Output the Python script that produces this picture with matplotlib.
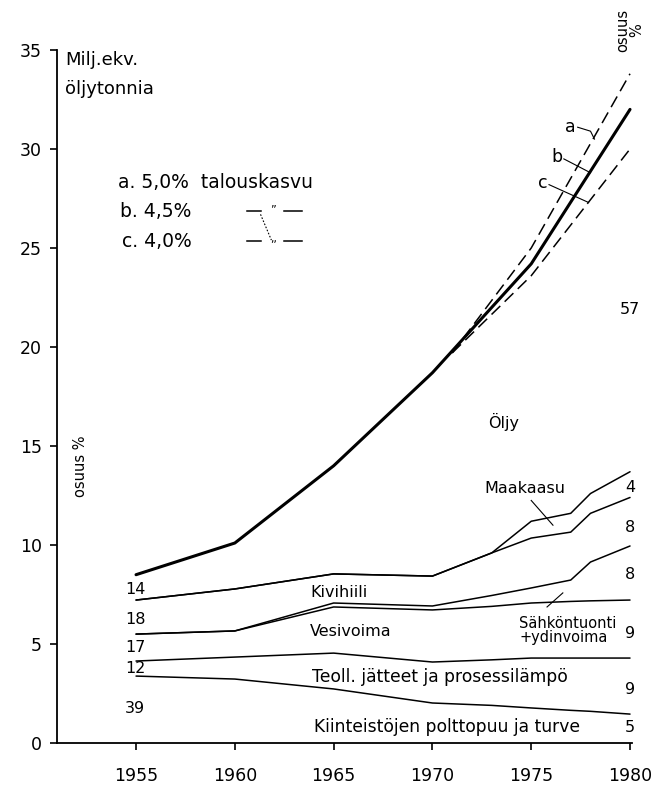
import matplotlib
matplotlib.use("Agg")
import matplotlib.pyplot as plt

# ---- data (Milj. ekv. öljytonnia), stacked boundaries ----
years = [1955, 1960, 1965, 1970, 1973, 1975, 1977, 1978, 1980]
wood_top = [3.38, 3.23, 2.73, 2.02, 1.90, 1.77, 1.65, 1.60, 1.46]      # Kiinteistöjen polttopuu ja turve
industry_top = [4.14, 4.34, 4.54, 4.09, 4.20, 4.29, 4.29, 4.29, 4.29]  # Teoll. jätteet ja prosessilämpö
hydro_top = [5.50, 5.66, 6.87, 6.72, 6.90, 7.07, 7.15, 7.18, 7.22]     # Vesivoima
import_top = [5.50, 5.66, 7.07, 6.92, 7.45, 7.83, 8.23, 9.14, 9.95]    # Sähköntuonti + ydinvoima
coal_top = [7.22, 7.78, 8.54, 8.43, 9.60, 10.35, 10.65, 11.60, 12.40]  # Kivihiili
gas_top = [7.22, 7.78, 8.54, 8.43, 9.60, 11.20, 11.60, 12.60, 13.70]   # Maakaasu

total_years = [1955, 1960, 1965, 1970, 1975, 1980]
total = [8.5, 10.1, 14.0, 18.7, 24.2, 32.0]                            # Öljy top (b. 4,5 %)

scen_years = [1971, 1975, 1980]
scen_a = [19.7, 25.0, 33.8]   # a. 5,0 % talouskasvu
scen_c = [19.7, 23.6, 30.0]   # c. 4,0 %

share_1955 = ["14", "18", "17", "12", "39"]
share_1980 = ["57", "4", "8", "8", "9", "9", "5"]

xticks = [1955, 1960, 1965, 1970, 1975, 1980]
yticks = [0, 5, 10, 15, 20, 25, 30, 35]

plt.rcParams['font.family'] = ['DejaVu Sans']

fig = plt.figure(figsize=(6.57, 7.85), dpi=100)
ax = fig.add_axes([57/657, 1-743/785, (632-57)/657, (743-50)/785])

thin = dict(color='black', lw=1.1, solid_capstyle='round')
for ser in [wood_top, industry_top, hydro_top, import_top, coal_top, gas_top]:
    ax.plot(years, ser, **thin)
ax.plot(total_years, total, color='black', lw=2.2, solid_capstyle='round')
ax.plot(scen_years, scen_a, color='black', lw=1.1, dashes=(8, 4))
ax.plot(scen_years, scen_c, color='black', lw=1.1, dashes=(8, 4))

ax.set_xlim(1951.0, 1980.1)
ax.set_ylim(0, 35)
ax.set_xticks(xticks)
ax.set_yticks(yticks)
ax.set_xticklabels([str(t) for t in xticks])
ax.set_yticklabels([str(t) for t in yticks])
for s in ['top', 'right']:
    ax.spines[s].set_visible(False)
for s in ['left', 'bottom']:
    ax.spines[s].set_linewidth(1.3)
ax.tick_params(axis='both', direction='out', length=5, width=1.2, labelsize=12.5)
ax.tick_params(axis='x', pad=12)
ax.tick_params(axis='y', pad=6)

fs = 11.5
# axis title
ax.text(1951.4, 34.5, "Milj.ekv.", fontsize=13, va='center', ha='left')
ax.text(1951.4, 33.05, "öljytonnia", fontsize=13, va='center', ha='left')

# legend text
ax.text(1954.1, 28.3, "a. 5,0%  talouskasvu", fontsize=13.5, va='center', ha='left')
ax.text(1954.2, 26.85, "b. 4,5%", fontsize=13.5, va='center', ha='left')
ax.text(1954.3, 25.35, "c. 4,0%", fontsize=13.5, va='center', ha='left')
for yv, mark in [(26.95, '\u201d'), (25.45, ',,')]:
    ax.plot([1960.6, 1961.3], [yv - 0.1, yv - 0.1], color='black', lw=1.1)
    ax.plot([1962.5, 1963.4], [yv - 0.1, yv - 0.1], color='black', lw=1.1)
    ax.text(1961.95, yv, mark, fontsize=8, ha='center', va='center')
ax.plot([1961.3, 1961.85], [26.7, 25.4], color='black', lw=0.8, dashes=(1.5, 1.5))

# share headers
ax.text(1952.2, 14.0, "osuus %", rotation=90, fontsize=10.5, ha='center', va='center')
ax.text(1980.0, 36.0, "osuus\n%", rotation=90, fontsize=10.5, ha='center', va='center',
        linespacing=0.9, clip_on=False)

# share numbers 1955
for lab, yv in zip(share_1955, [7.73, 6.26, 4.80, 3.74, 1.72]):
    ax.text(1954.95, yv, lab, fontsize=fs, ha='center', va='center')
# share numbers 1980
for lab, yv in zip(share_1980, [21.9, 12.9, 10.9, 8.5, 5.55, 2.68, 0.76]):
    ax.text(1980.0, yv, lab, fontsize=fs, ha='center', va='center')

# series names
ax.text(1973.6, 16.2, "Öljy", fontsize=fs, ha='center', va='center')
ax.text(1974.7, 12.85, "Maakaasu", fontsize=fs, ha='center', va='center')
ax.plot([1975.0, 1976.1], [12.25, 11.0], color='black', lw=0.8)
ax.text(1963.8, 7.62, "Kivihiili", fontsize=fs, ha='left', va='center')
ax.text(1963.8, 5.62, "Vesivoima", fontsize=fs, ha='left', va='center')
ax.text(1974.4, 5.67, "Sähköntuonti\n+ydinvoima", fontsize=10.5, ha='left', va='center',
        linespacing=0.95)
ax.plot([1975.8, 1976.6], [6.87, 7.58], color='black', lw=0.8)
ax.text(1963.9, 3.35, "Teoll. jätteet ja prosessilämpö", fontsize=12.3, ha='left', va='center')
ax.text(1964.0, 0.8, "Kiinteistöjen polttopuu ja turve", fontsize=12.3, ha='left', va='center')

# scenario labels
ax.text(1977.0, 31.1, "a", fontsize=12.5, ha='center', va='center')
ax.text(1976.3, 29.6, "b", fontsize=12.5, ha='center', va='center')
ax.text(1975.6, 28.3, "c", fontsize=12.5, ha='center', va='center')
ax.plot([1977.35, 1978.0, 1978.2], [31.1, 30.9, 30.5], color='black', lw=0.8)
ax.plot([1976.65, 1978.0], [29.5, 28.8], color='black', lw=0.8)
ax.plot([1975.9, 1977.9], [28.2, 27.3], color='black', lw=0.8)

fig.savefig("out.png", dpi=100)
